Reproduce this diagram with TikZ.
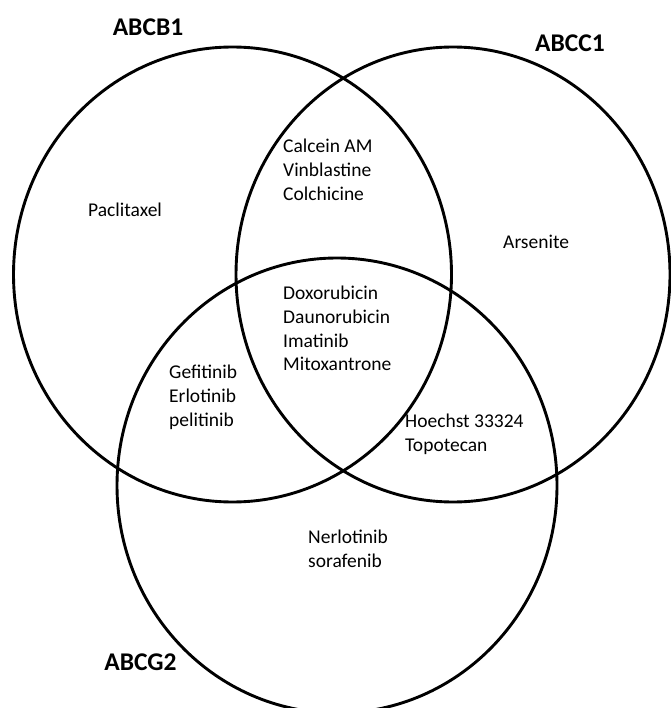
\documentclass[tikz,border=0pt]{standalone}
\usepackage{fontspec}
\setmainfont{Carlito}
\usetikzlibrary{shapes.geometric}
\begin{document}
\begin{tikzpicture}[x=1pt,y=-1pt,
  setcircle/.style={draw=black, line width=2.9pt, ellipse, inner sep=0pt,
    minimum width=438pt, minimum height=455pt},
  setlabel/.style={font=\fontsize{25.5}{30}\selectfont\bfseries, inner sep=0pt},
  drug/.style={font=\fontsize{19.5}{23.8}\selectfont, align=left, anchor=west, inner sep=0pt}]
\useasboundingbox (0,0) rectangle (670,708);
\node[setcircle] (cb1) at (232.5,274.5) {};
\node[setcircle, minimum width=434pt] (cc1) at (453,274.5) {};
\node[setcircle, minimum width=440pt] (cg2) at (337,485.5) {};
\node[setlabel] (lb1) at (148,27.5) {ABCB1};
\node[setlabel] (lc1) at (570,43.5) {ABCC1};
\node[setlabel] (lg2) at (140.5,662) {ABCG2};
\node[drug] (pac) at (88,210) {Paclitaxel};
\node[drug] (cal) at (283,169.5) {Calcein AM\\Vinblastine\\Colchicine};
\node[drug] (ars) at (503,242) {Arsenite};
\node[drug] (dox) at (283,328.5) {Doxorubicin\\Daunorubicin\\Imatinib\\Mitoxantrone};
\node[drug] (gef) at (169,397) {Gefitinib\\Erlotinib\\pelitinib};
\node[drug] (hoe) at (405,434.5) {Hoechst 33324\\Topotecan};
\node[drug] (ner) at (308,548.5) {Nerlotinib\\sorafenib};
\end{tikzpicture}
\end{document}
